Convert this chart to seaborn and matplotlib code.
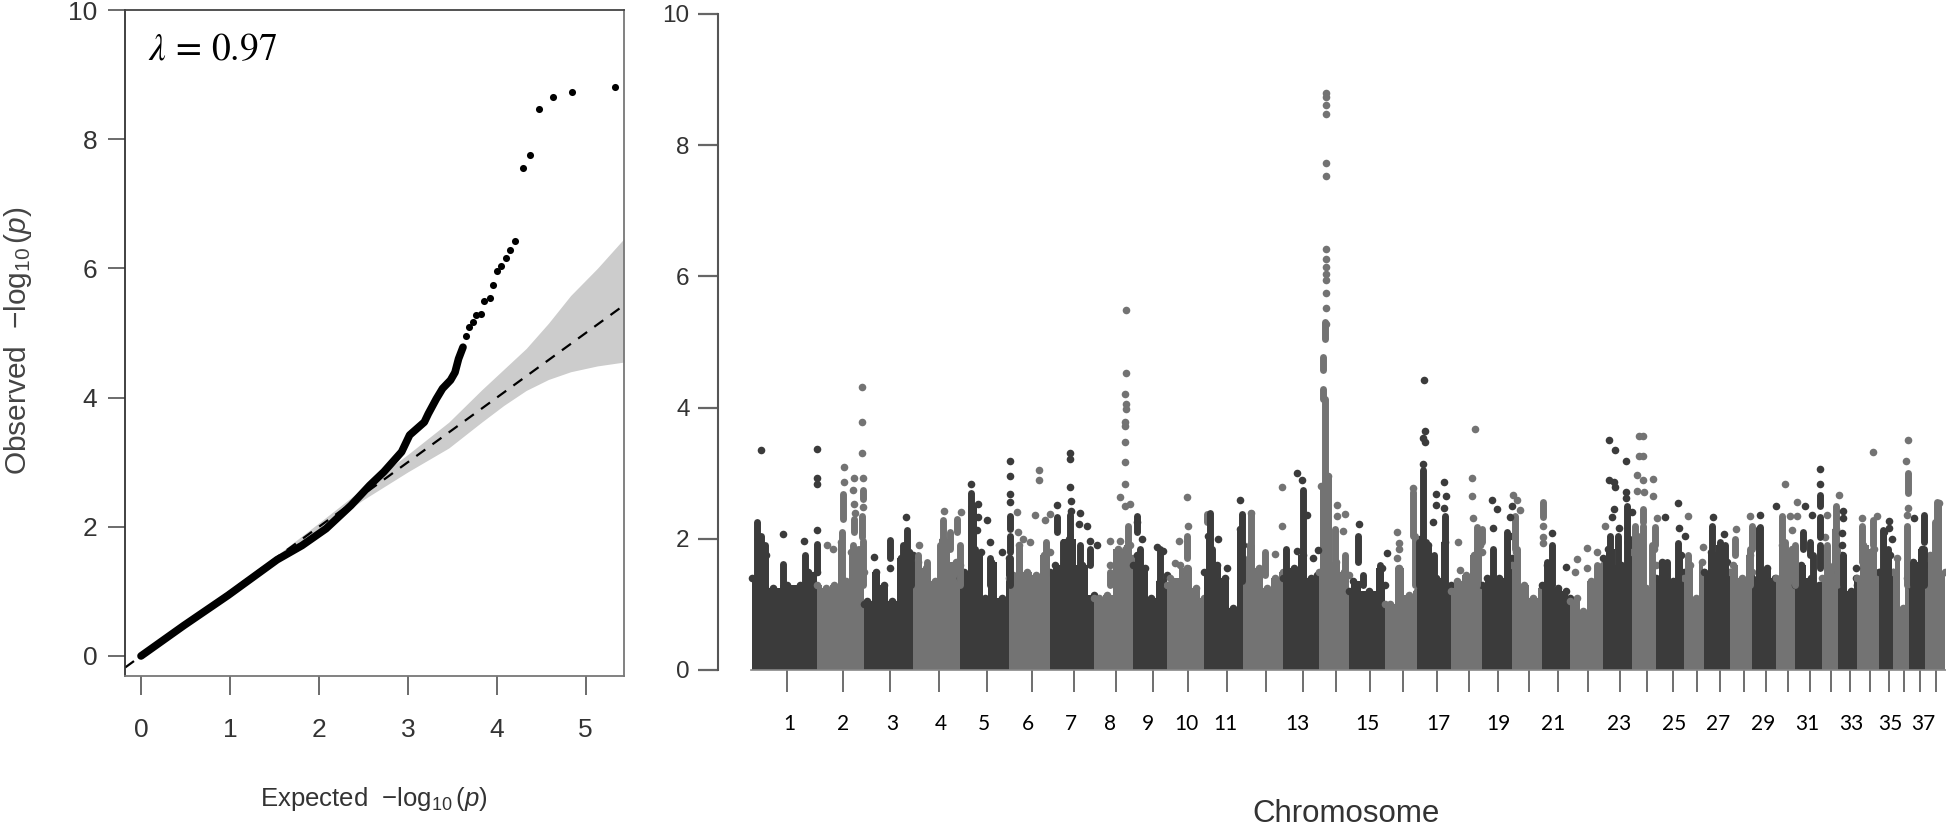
import numpy as np
import matplotlib
matplotlib.use("Agg")
import matplotlib.pyplot as plt
from matplotlib import font_manager
import seaborn as sns

# ---- QQ plot values
qq_line_x = [0, 0.48, 0.98, 1.53, 1.81, 2.08, 2.36, 2.57, 2.73, 2.93, 3.02, 3.185, 3.23, 3.32, 3.39, 3.48, 3.53, 3.57, 3.62]
qq_line_y = [0, 0.47, 0.94, 1.49, 1.71, 1.97, 2.33, 2.64, 2.85, 3.16, 3.42, 3.62, 3.75, 3.98, 4.14, 4.27, 4.39, 4.60, 4.78]
qq_dot_x = [3.65, 3.69, 3.73, 3.77, 3.82, 3.86, 3.92, 3.96, 4.0, 4.05, 4.10, 4.15, 4.21, 4.29, 4.37, 4.48, 4.63, 4.85, 5.33]
qq_dot_y = [4.96, 5.09, 5.17, 5.28, 5.30, 5.49, 5.54, 5.74, 5.96, 6.04, 6.16, 6.28, 6.43, 7.55, 7.75, 8.47, 8.65, 8.73, 8.81]
band_x = [1.5, 2.0, 2.5, 3.0, 3.46, 3.83, 4.08, 4.33, 4.58, 4.83, 5.13, 5.43]
band_lo = [1.47, 1.95, 2.42, 2.85, 3.22, 3.62, 3.88, 4.11, 4.28, 4.40, 4.49, 4.55]
band_hi = [1.53, 2.06, 2.60, 3.12, 3.62, 4.12, 4.44, 4.76, 5.15, 5.58, 6.00, 6.46]

# ---- Manhattan plot values
# top of the solid mass of each chromosome (position, -log10 p)
sky_pos = [
    [0.5, 7, 15, 21.6, 36, 49, 57, 66], [66, 75, 83, 90, 95, 100, 110, 113], [113, 116, 125, 133, 141, 150, 158, 162],
    [162, 167, 175, 184, 192, 205, 209], [209, 213, 221, 230, 234, 240, 251, 258], [258, 262, 268, 276, 285, 293, 299],
    [299, 304, 318, 331, 343], [343, 348, 356, 367, 379, 382], [382, 386, 394, 400, 409, 416],
    [416, 419, 436, 445, 453], [453, 457, 466, 474, 482, 489, 492], [492, 499, 508, 516, 524, 532],
    [532, 543, 551.5, 560, 566, 568], [568, 570, 577, 585, 593, 598], [598, 602, 618, 631, 634],
    [634, 639, 648, 658, 666], [666, 669, 677, 685, 694, 700], [700, 706, 715, 723, 729, 731],
    [731, 736, 748, 759, 761], [761, 765, 773, 782, 791], [791, 796, 807, 815, 819],
    [819, 826, 832, 840, 852], [852, 857, 870, 878, 881], [881, 886, 895, 903, 905],
    [905, 911, 922, 930, 933], [933, 939, 945, 951, 953], [953, 960, 970, 976, 979],
    [979, 982, 991, 999, 1001], [1001, 1008, 1016, 1024, 1025], [1025, 1031, 1041, 1044],
    [1044, 1050, 1060, 1068, 1071], [1071, 1077, 1085, 1087], [1087, 1091, 1100, 1105, 1106],
    [1106, 1112, 1123, 1128], [1128, 1133, 1139, 1142], [1142, 1146, 1152, 1156, 1158],
    [1158, 1162, 1171, 1174], [1174, 1179, 1188, 1194],
]
sky_top = [
    [1.4, 2.0, 1.75, 1.25, 1.3, 1.3, 1.5, 1.5], [1.3, 1.25, 1.3, 1.95, 1.35, 1.8, 1.85, 1.5], [1.0, 1.05, 1.5, 1.3, 1.05, 1.7, 1.8, 1.75],
    [1.6, 1.65, 1.55, 1.35, 2.0, 1.65, 1.6], [1.4, 1.5, 2.5, 1.8, 1.1, 1.65, 1.1, 1.7], [1.4, 1.45, 1.9, 1.5, 1.45, 1.75, 1.8],
    [1.5, 1.6, 2.0, 1.6, 1.15], [1.1, 1.1, 1.15, 1.85, 1.9, 1.7], [1.6, 1.75, 1.55, 1.1, 1.35, 1.45],
    [1.3, 1.4, 1.55, 1.25, 1.1], [1.5, 2.05, 1.6, 1.4, 0.95, 2.15, 1.9], [1.7, 1.9, 1.55, 1.25, 1.4, 1.5],
    [1.4, 1.55, 1.75, 1.4, 1.45, 1.4], [1.5, 2.8, 2.95, 1.65, 1.5, 1.45], [1.2, 1.35, 1.2, 1.55, 1.3],
    [1.0, 1.0, 1.55, 1.15, 1.2], [1.7, 2.0, 1.9, 1.4, 1.95, 1.3], [1.2, 1.35, 1.45, 1.75, 1.9, 1.8],
    [1.3, 1.4, 1.4, 2.05, 1.7], [1.6, 1.8, 1.3, 1.1, 1.25], [1.3, 1.6, 1.25, 1.2, 1.1],
    [1.05, 1.1, 0.9, 1.35, 1.6], [1.7, 1.85, 1.6, 2.0, 1.9], [1.8, 2.05, 1.25, 1.85, 1.6],
    [1.4, 1.65, 1.35, 1.75, 1.5], [1.4, 1.6, 1.1, 1.65, 1.5], [1.5, 1.8, 1.9, 1.65, 1.5],
    [1.5, 1.6, 1.4, 1.75, 1.5], [1.4, 2.15, 1.55, 1.4, 1.3], [1.4, 1.9, 1.85, 1.6],
    [1.3, 1.6, 1.4, 1.3, 1.3], [1.4, 1.6, 2.15, 1.7], [1.5, 1.75, 1.2, 1.4, 1.3],
    [1.4, 1.9, 1.85, 1.5], [1.5, 2.1, 1.75, 1.5], [1.5, 1.7, 0.95, 1.4, 1.4],
    [1.3, 1.65, 1.85, 1.6], [1.5, 1.75, 2.55, 1.5],
]

# stacks of overlapping snps (position, low, high)
dark_col_pos = [6, 10, 14, 32, 54, 66.3, 139, 155.7, 152, 160, 220, 224, 239, 258.7, 258.7, 258.7,
                319.3, 319.3, 329, 339, 312, 305.7, 385.7, 389, 409, 459, 460.7, 490.7, 534.7, 552.3,
                671.7, 667.7, 675, 683, 694, 607.3, 629, 612, 755.7, 742.3, 800.7, 795.7, 859, 867.3, 875.7, 875.7,
                927.3, 915.7, 960.7, 969, 974, 1009, 1052.3, 1059, 1069, 1069, 1069, 1062.3, 1092.3,
                1132.3, 1137.3, 1173.3, 1173.3, 1162.3]
dark_col_lo = [1.3, 1.3, 1.3, 1.3, 1.3, 1.5, 1.7, 1.3, 1.3, 1.3, 1.3, 1.3, 1.3, 2.15, 1.8, 1.3,
               2.05, 1.3, 1.3, 1.6, 1.45, 2.1, 2.1, 1.3, 1.3, 1.85, 1.3, 1.35, 1.3, 1.3,
               1.95, 1.3, 1.3, 1.3, 1.3, 1.65, 1.3, 1.3, 1.3, 1.3, 1.3, 1.3, 1.3, 1.3, 1.95, 1.3,
               1.3, 1.3, 1.3, 1.3, 1.3, 1.3, 1.85, 1.75, 2.5, 2.03, 1.55, 1.3, 1.3,
               1.3, 1.3, 1.95, 1.3, 1.3]
dark_col_hi = [2.25, 2.05, 1.9, 1.62, 1.75, 1.92, 1.98, 2.13, 1.9, 1.75, 2.7, 1.85, 1.7, 2.35, 2.05, 1.7,
               2.36, 2.05, 1.9, 1.85, 1.95, 2.33, 2.35, 1.85, 1.85, 2.4, 1.85, 2.38, 1.85, 2.75,
               3.05, 1.95, 1.95, 1.75, 2.35, 2.05, 1.6, 1.45, 2.1, 1.85, 1.9, 1.65, 2.05, 2.05, 2.5, 1.95,
               1.93, 1.65, 2.2, 1.95, 1.9, 2.18, 2.1, 1.95, 2.67, 2.33, 1.9, 1.75, 1.75,
               2.13, 1.85, 2.36, 1.85, 1.65]
gray_col_pos = [91.7, 90.7, 103, 110.7, 112.3, 102.3, 112.3, 107.3, 192.3, 205.7, 199, 189, 209, 167.3, 175.7,
                574.3, 571.7, 572.3, 574, 574, 499.7, 435.7, 437, 374, 377.3, 514, 584, 295, 359, 455.7,
                662.3, 664, 725.7, 730.7, 725.7, 764, 765.7, 647.3, 594, 884, 845.7, 792.3,
                892.3, 892.3, 904, 900.7, 937, 984, 1000.7, 999, 1030.7, 1034, 1044, 1085, 1085.7, 1075.7,
                1110.7, 1122.3, 1122.3, 1157, 1156.3, 1185.7, 1184]
gray_col_lo = [2.3, 1.3, 2.1, 2.03, 2.6, 1.3, 1.3, 1.3, 1.85, 2.1, 1.85, 1.3, 1.3, 1.3, 1.3,
               5.05, 4.57, 4.13, 2.8, 1.3, 1.85, 1.7, 1.3, 1.3, 1.9, 1.45, 1.3, 1.3, 1.3, 2.25,
               2.05, 1.3, 1.85, 1.95, 1.3, 1.85, 1.3, 1.3, 1.3, 1.3, 1.3, 2.33,
               2.25, 1.3, 1.9, 1.3, 1.3, 1.75, 1.85, 1.3, 1.95, 1.3, 1.3, 1.85, 1.3, 1.3,
               1.65, 1.9, 1.3, 2.7, 1.3, 2.25, 1.3]
gray_col_hi = [2.68, 2.1, 2.3, 2.35, 2.75, 1.9, 1.97, 1.85, 2.28, 2.3, 2.1, 1.9, 1.9, 1.75, 1.65,
               5.3, 4.77, 4.29, 4.13, 2.74, 2.4, 2.05, 1.55, 1.85, 2.2, 1.8, 2.15, 1.95, 1.5, 2.38,
               2.71, 2.05, 2.18, 2.15, 1.85, 2.35, 1.85, 1.55, 1.75, 2.2, 1.6, 2.56,
               2.46, 2.2, 2.18, 1.9, 1.75, 2.0, 2.2, 1.85, 2.35, 1.95, 1.9, 2.5, 1.85, 1.9,
               2.2, 2.28, 1.85, 3.0, 2.2, 2.56, 2.25]

# single points
dark_pos = [9.7, 66.3, 66.3, 66.3, 66.3, 32, 52.7, 154.7, 123, 139, 220, 226.7, 226.7, 225.7, 236.3, 239.3, 250.7,
            258.7, 258.7, 258.7, 258.7, 319.3, 319.3, 319.3, 320, 319.7, 305.7, 329, 328.3, 335.7, 339, 345.7,
            385.7, 390.7, 405.7, 412.3, 467.3, 489, 545.7, 551, 545.7, 567.3, 562.3, 475.7, 555.7,
            673.3, 673.7, 671.7, 673.7, 671.7, 692.7, 684.7, 694.7, 684.7, 693.3, 682.3, 741.3, 746, 760.7, 759, 742.3,
            636.3, 608.3, 800.7, 815.3, 858.3, 864, 875, 858.3, 863, 863.7, 875, 875, 863, 860.7, 868.3, 880.7,
            914.3, 927.3, 928.3, 934, 962, 973, 1009, 1025, 1054.3, 1061.3, 1069, 1069, 1092.3, 1092.3, 1091.3, 1091.3,
            1105, 1138.3, 1138.3, 1140.7, 1163]
dark_val = [3.35, 3.37, 2.92, 2.83, 2.14, 2.07, 1.96, 2.33, 1.73, 1.55, 2.83, 2.53, 2.33, 2.13, 2.29, 1.95, 1.8,
            3.18, 2.95, 2.68, 2.56, 3.31, 3.22, 2.79, 2.57, 2.42, 2.51, 2.40, 2.23, 2.19, 1.97, 1.90,
            2.25, 2.0, 1.88, 1.82, 1.99, 2.59, 3.0, 2.89, 1.81, 1.83, 1.7, 1.55, 2.36,
            4.42, 3.64, 3.53, 3.47, 3.14, 2.87, 2.69, 2.65, 2.51, 2.47, 2.26, 2.59, 2.45, 2.5, 2.33, 2.17,
            1.78, 2.23, 2.09, 1.57, 3.5, 3.35, 3.19, 2.9, 2.87, 2.79, 2.72, 2.62, 2.46, 2.33, 2.17, 2.41,
            2.33, 2.55, 2.17, 2.04, 2.33, 2.07, 2.36, 2.5, 2.5, 2.36, 3.06, 2.83, 2.42, 2.31, 2.09, 1.91,
            1.55, 2.27, 2.17, 2.0, 2.32]
gray_pos = [110.7, 110.7, 110.7, 92.7, 92.7, 102.7, 112.3, 102.3, 103, 112.3, 104, 167.7, 193.3, 210, 266.3, 284, 288, 288,
            267.3, 272.3, 279, 75.7, 82,
            374.7, 374.7, 373.7, 374.7, 374.7, 373.7, 373.7, 373.7, 374, 373.7, 369, 374, 379, 436, 437.3, 428.3, 359, 369, 359,
            424, 429, 530.7, 530.7, 524, 500, 585.7, 585.7, 299, 294,
            575.3, 575.3, 575.3, 575.3, 575.3, 575.3, 575.3, 575.3, 575.3, 575.3, 575.3, 575.3, 575.3, 575.3,
            724, 721, 721, 721.7, 594, 591.7, 645.7, 648.3, 648.3, 645.7, 706.7, 709, 662.3, 761.7, 765.7, 769,
            792.3, 792.3, 792.3, 836.3, 846, 826, 836.3, 824, 854, 886.3, 886.3, 888, 888,
            892.3, 892.3, 892.3, 902, 893, 902, 905.7, 936.7, 984.7, 952.3, 999, 1033.7, 1045.7, 1039, 1045.7, 1041.3,
            1076, 1088.3, 1074, 1122, 1110.7, 1126.3, 1157, 1155.3, 1157, 1155.7]
gray_val = [4.32, 3.78, 3.31, 3.09, 2.86, 2.93, 2.93, 2.75, 2.53, 2.49, 2.39, 1.91, 2.43, 2.41, 2.41, 2.36, 3.05, 2.90,
            2.1, 2.0, 1.95, 1.9, 1.84,
            5.49, 4.52, 4.2, 4.06, 3.98, 3.78, 3.72, 3.48, 3.17, 2.83, 2.64, 2.5, 2.53, 2.63, 2.2, 1.96, 1.96, 1.96, 1.6,
            1.63, 1.6, 2.79, 2.2, 1.77, 2.4, 2.52, 2.34, 2.38, 2.28,
            8.80, 8.73, 8.62, 8.47, 7.73, 7.53, 6.42, 6.27, 6.15, 6.03, 5.94, 5.74, 5.52, 5.28,
            3.67, 2.92, 2.65, 2.32, 2.38, 2.12, 2.1, 1.93, 1.85, 1.71, 1.95, 1.52, 2.78, 2.67, 2.59, 2.44,
            2.2, 2.03, 1.93, 1.86, 1.8, 1.69, 1.55, 1.5, 2.2, 2.97, 2.73, 3.56, 3.26,
            3.56, 3.26, 2.9, 2.91, 2.71, 2.66, 2.32, 2.34, 2.15, 1.88, 2.34, 2.84, 2.56, 2.34, 2.34, 2.13,
            2.36, 2.67, 2.03, 3.32, 2.32, 2.34, 3.51, 3.19, 2.47, 2.36]

tick_pos = [35.5, 92.3, 139.4, 188.2, 236.2, 280.8, 323.3, 365.4, 401.6, 437, 475.7, 514.9, 551.6, 585, 619.3, 652,
            685.9, 718, 747.4, 777.5, 806.8, 837.3, 868.7, 895.5, 921.8, 945.7, 969, 992.6, 1014.7, 1037.3, 1058.7,
            1080, 1098.8, 1119, 1137.7, 1152.8, 1169, 1184.6]
label_pos = [38.4, 92.3, 141, 190, 233, 277, 320.4, 358.7, 397, 435.3, 474.4, 546.5, 616.4, 687.5, 747.4, 801.8,
             868.3, 923, 967.5, 1011.8, 1056, 1100, 1139.4, 1172]
chrom_labels = ["1", "2", "3", "4", "5", "6", "7", "8", "9", "10", "11", "13", "15", "17", "19", "21",
                "23", "25", "27", "29", "31", "33", "35", "37"]

DARK = "#3b3b3b"
GRAY = "#737373"
TXT = "#333333"
W, H = 1946, 831

sns.set_style("white")
installed = {f.name for f in font_manager.fontManager.ttflist}
narrow = "Liberation Sans Narrow" if "Liberation Sans Narrow" in installed else "Liberation Sans"
plt.rcParams["font.family"] = ["Liberation Sans", "DejaVu Sans"]
plt.rcParams["mathtext.fontset"] = "custom"
plt.rcParams["mathtext.rm"] = "Liberation Sans"
plt.rcParams["mathtext.it"] = "Liberation Sans:italic"
plt.rcParams["mathtext.bf"] = "Liberation Sans:bold"

fig = plt.figure(figsize=(W / 100, H / 100), dpi=100)

# ---- left panel, QQ plot
ax1 = fig.add_axes([125 / W, (H - 676) / H, 499 / W, 666 / H])
ax1.fill_between(band_x, band_lo, band_hi, color="#cccccc", linewidth=0, zorder=1)
sns.lineplot(x=[-0.18, 5.43], y=[-0.18, 5.43], color="black", linestyle=(0, (5, 4)), linewidth=1.6, ax=ax1, zorder=2)
sns.lineplot(x=qq_line_x, y=qq_line_y, color="black", linewidth=5.5, sort=False, estimator=None, ax=ax1, zorder=3,
             solid_capstyle="round")
sns.scatterplot(x=qq_dot_x, y=qq_dot_y, color="black", s=26, linewidth=0, ax=ax1, zorder=3)
ax1.set_xlim(-0.18, 5.43)
ax1.set_ylim(-0.31, 10)
ax1.set_xticks(range(6))
ax1.set_yticks(range(0, 11, 2))
ax1.tick_params(axis="x", length=14, width=1.1, color="#444444", labelsize=19, labelcolor=TXT, pad=16, bottom=True)
ax1.tick_params(axis="y", length=12, width=1.1, color="#444444", labelsize=19, labelcolor=TXT, pad=8, left=True)
for lab in ax1.get_xticklabels() + ax1.get_yticklabels():
    lab.set_family(narrow)
ax1.spines["left"].set_color("#333333")
ax1.spines["top"].set_color("#444444")
ax1.spines["right"].set_color("#777777")
ax1.spines["bottom"].set_color("#777777")
for s in ax1.spines.values():
    s.set_linewidth(1.3)
ax1.set_xlabel("")
ax1.set_ylabel("")
ax1.text(0.047, 0.94, r"$\lambda\,=\,0.97$", transform=ax1.transAxes, fontsize=27, va="center", color="black",
         math_fontfamily="stix")
fig.text(374 / W, 1 - 799 / H, r"Expected  $-\log_{10}(p)$", ha="center", va="center", fontsize=18.5, color=TXT,
         family=narrow)
fig.text(18 / W, 1 - 341 / H, r"Observed  $-\log_{10}(p)$", ha="center", va="center", rotation=90, fontsize=21.5,
         color="#444444")

# ---- right panel, Manhattan plot
ax2 = fig.add_axes([718 / W, (H - 670) / H, (W - 718) / W, 656 / H])
for i in range(len(sky_pos)):
    col = DARK if i % 2 == 0 else GRAY
    ax2.fill_between(sky_pos[i], 0, sky_top[i], color=col, linewidth=0, zorder=2, step="mid")
    sns.scatterplot(x=sky_pos[i], y=sky_top[i], color=col, s=30, linewidth=0, ax=ax2, zorder=2)
ax2.vlines(gray_col_pos, gray_col_lo, gray_col_hi, color=GRAY, linewidth=5, capstyle="round", zorder=3)
ax2.vlines(dark_col_pos, dark_col_lo, dark_col_hi, color=DARK, linewidth=5, capstyle="round", zorder=4)
sns.scatterplot(x=gray_pos, y=gray_val, color=GRAY, s=30, linewidth=0, ax=ax2, zorder=3)
sns.scatterplot(x=dark_pos, y=dark_val, color=DARK, s=30, linewidth=0, ax=ax2, zorder=4)
ax2.set_xlim(-33, 1195)
ax2.set_ylim(0, 10)
ax2.set_yticks(range(0, 11, 2))
ax2.tick_params(axis="y", length=14.5, width=1.6, color="#666666", labelsize=17.5, labelcolor=TXT, pad=6, left=True)
ax2.xaxis.remove_overlapping_locs = False
ax2.set_xticks(tick_pos)
ax2.set_xticklabels([])
ax2.tick_params(axis="x", which="major", length=16, width=1.2, color="#555555", bottom=True)
ax2.set_xticks(label_pos, minor=True)
ax2.set_xticklabels(chrom_labels, minor=True, family="Lato", fontsize=15, color="black")
ax2.tick_params(axis="x", which="minor", length=0, pad=32, bottom=True)
for side in ["top", "right"]:
    ax2.spines[side].set_visible(False)
ax2.spines["left"].set_color("#555555")
ax2.spines["left"].set_linewidth(1.5)
ax2.spines["bottom"].set_color("#888888")
ax2.spines["bottom"].set_bounds(0, 1195)
ax2.spines["bottom"].set_linewidth(1.2)
fig.text(1346 / W, 1 - 814 / H, "Chromosome", ha="center", va="center", fontsize=22.5, color=TXT)

fig.savefig("out.png", dpi=100)
